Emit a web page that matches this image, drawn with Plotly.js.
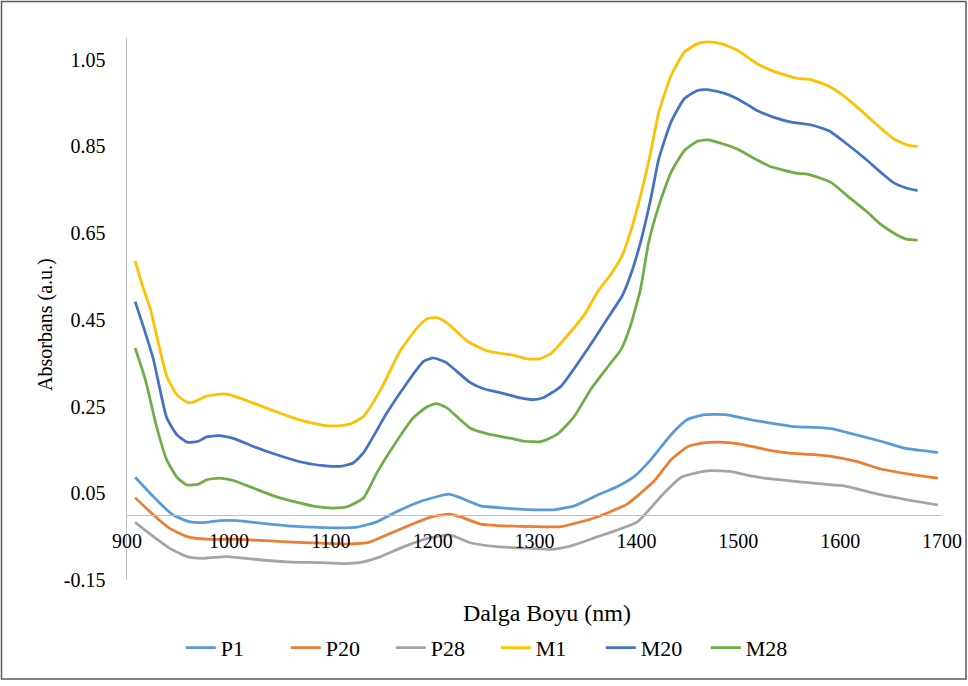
<!DOCTYPE html>
<html>
<head>
<meta charset="utf-8">
<script src="https://cdn.plot.ly/plotly-3.0.1.min.js"></script>
<style>
html,body{margin:0;padding:0;background:#fff;}
#chart{width:968px;height:686px;}
</style>
</head>
<body>
<div id="chart"></div>
<script>
// ---- data ----
const seriesNames = ["P1", "P20", "P28", "M1", "M20", "M28"];
const seriesColors = ["#5B9BD5", "#ED7D31", "#A5A5A5", "#FFC000", "#4472C4", "#70AD47"];

const p1X = [908, 926, 945, 962, 978, 991, 1008, 1031, 1057, 1083, 1109, 1126, 1145, 1165, 1188, 1204, 1216, 1227, 1247, 1270, 1300, 1319, 1339, 1362, 1381, 1398, 1414, 1434, 1450, 1466, 1489, 1509, 1532, 1555, 1575, 1591, 1607, 1640, 1663, 1696];
const p1Y = [0.087, 0.042, 0.000, -0.016, -0.017, -0.013, -0.013, -0.019, -0.025, -0.028, -0.030, -0.028, -0.016, 0.008, 0.031, 0.042, 0.048, 0.040, 0.021, 0.016, 0.012, 0.012, 0.021, 0.046, 0.065, 0.089, 0.127, 0.185, 0.220, 0.231, 0.231, 0.221, 0.212, 0.204, 0.202, 0.199, 0.190, 0.170, 0.154, 0.144];

const p20X = [908, 926, 942, 959, 978, 1001, 1024, 1057, 1090, 1116, 1136, 1149, 1172, 1198, 1216, 1227, 1247, 1270, 1300, 1326, 1342, 1362, 1375, 1391, 1404, 1417, 1434, 1450, 1466, 1480, 1503, 1525, 1548, 1575, 1591, 1617, 1640, 1666, 1696];
const p20Y = [0.040, 0.000, -0.031, -0.050, -0.056, -0.056, -0.058, -0.062, -0.065, -0.067, -0.064, -0.052, -0.029, -0.005, 0.002, -0.004, -0.021, -0.025, -0.027, -0.027, -0.018, -0.004, 0.008, 0.025, 0.050, 0.077, 0.127, 0.157, 0.166, 0.168, 0.163, 0.152, 0.143, 0.139, 0.135, 0.123, 0.106, 0.095, 0.085];

const p28X = [908, 926, 942, 959, 975, 998, 1024, 1057, 1090, 1113, 1132, 1149, 1172, 1195, 1217, 1237, 1263, 1296, 1319, 1339, 1362, 1381, 1401, 1414, 1427, 1444, 1457, 1473, 1493, 1512, 1532, 1558, 1584, 1604, 1637, 1666, 1696];
const p28Y = [-0.017, -0.050, -0.077, -0.096, -0.100, -0.096, -0.102, -0.108, -0.110, -0.112, -0.108, -0.096, -0.073, -0.054, -0.046, -0.064, -0.073, -0.077, -0.079, -0.069, -0.050, -0.035, -0.016, 0.016, 0.050, 0.087, 0.096, 0.102, 0.100, 0.090, 0.083, 0.077, 0.071, 0.067, 0.048, 0.035, 0.023];

const m1X = [908, 915, 923, 939, 949, 959, 965, 978, 995, 1005, 1024, 1041, 1063, 1080, 1096, 1110, 1119, 1132, 1149, 1168, 1185, 1195, 1204, 1214, 1234, 1254, 1280, 1293, 1305, 1316, 1329, 1349, 1362, 1375, 1386, 1394, 1404, 1414, 1422, 1434, 1447, 1460, 1470, 1483, 1496, 1503, 1519, 1535, 1558, 1571, 1588, 1601, 1617, 1637, 1653, 1666, 1676];
const m1Y = [0.586, 0.530, 0.474, 0.320, 0.277, 0.260, 0.260, 0.274, 0.279, 0.274, 0.258, 0.243, 0.224, 0.213, 0.206, 0.206, 0.210, 0.227, 0.289, 0.378, 0.432, 0.453, 0.455, 0.443, 0.401, 0.378, 0.368, 0.360, 0.360, 0.372, 0.405, 0.462, 0.515, 0.555, 0.598, 0.651, 0.736, 0.836, 0.929, 1.013, 1.067, 1.087, 1.091, 1.087, 1.075, 1.066, 1.040, 1.023, 1.007, 1.004, 0.990, 0.971, 0.940, 0.898, 0.867, 0.853, 0.850];

const m20X = [908, 916, 926, 939, 949, 959, 970, 978, 990, 1005, 1024, 1047, 1073, 1093, 1109, 1122, 1132, 1155, 1175, 1191, 1201, 1213, 1237, 1250, 1270, 1286, 1299, 1309, 1326, 1355, 1371, 1386, 1394, 1404, 1414, 1422, 1434, 1447, 1460, 1470, 1486, 1499, 1512, 1519, 1535, 1552, 1571, 1589, 1607, 1627, 1640, 1652, 1665, 1676];
const m20Y = [0.492, 0.435, 0.358, 0.224, 0.185, 0.168, 0.170, 0.180, 0.183, 0.176, 0.158, 0.139, 0.121, 0.114, 0.112, 0.120, 0.143, 0.235, 0.305, 0.354, 0.362, 0.352, 0.305, 0.291, 0.280, 0.270, 0.266, 0.271, 0.297, 0.393, 0.451, 0.505, 0.551, 0.628, 0.728, 0.821, 0.906, 0.960, 0.979, 0.981, 0.973, 0.960, 0.942, 0.932, 0.917, 0.906, 0.900, 0.886, 0.855, 0.817, 0.790, 0.767, 0.754, 0.748];

const m28X = [908, 918, 929, 939, 949, 959, 970, 978, 990, 1005, 1024, 1044, 1067, 1086, 1103, 1116, 1132, 1145, 1159, 1181, 1195, 1204, 1214, 1237, 1254, 1276, 1290, 1306, 1316, 1324, 1339, 1355, 1371, 1385, 1394, 1404, 1412, 1422, 1434, 1447, 1460, 1470, 1486, 1499, 1519, 1532, 1558, 1568, 1591, 1607, 1627, 1640, 1652, 1665, 1676];
const m28Y = [0.385, 0.312, 0.204, 0.127, 0.087, 0.069, 0.071, 0.081, 0.085, 0.079, 0.062, 0.044, 0.029, 0.019, 0.016, 0.019, 0.039, 0.096, 0.150, 0.224, 0.250, 0.257, 0.247, 0.200, 0.187, 0.177, 0.170, 0.169, 0.178, 0.189, 0.227, 0.289, 0.339, 0.382, 0.435, 0.520, 0.628, 0.713, 0.790, 0.840, 0.862, 0.865, 0.855, 0.844, 0.818, 0.803, 0.788, 0.786, 0.767, 0.736, 0.698, 0.670, 0.651, 0.636, 0.634];

const xTickVals = [900, 1000, 1100, 1200, 1300, 1400, 1500, 1600, 1700];
const yTickVals = [-0.15, 0.05, 0.25, 0.45, 0.65, 0.85, 1.05];
const yTickText = ["-0.15", "0.05", "0.25", "0.45", "0.65", "0.85", "1.05"];
const xTitle = "Dalga Boyu (nm)";
const yTitle = "Absorbans (a.u.)";

// ---- build ----
const xs = [p1X, p20X, p28X, m1X, m20X, m28X];
const ys = [p1Y, p20Y, p28Y, m1Y, m20Y, m28Y];
const traces = seriesNames.map((n, i) => ({
  type: "scatter", mode: "lines", name: n,
  x: xs[i], y: ys[i],
  line: {color: seriesColors[i], width: 2.75, shape: "spline", smoothing: 0.5}
}));

const FONT = "'Liberation Serif', 'Times New Roman', serif";
const yMin = -0.15, yMax = 1.10;
const zeroPos = (0 - yMin) / (yMax - yMin);

const layout = {
  width: 968, height: 686,
  margin: {l: 127, r: 26, t: 38, b: 106},
  paper_bgcolor: "#ffffff", plot_bgcolor: "#ffffff",
  font: {family: FONT, color: "#000000", size: 18},
  showlegend: true,
  legend: {
    orientation: "h", x: 0.066, xanchor: "left", y: -0.125, yanchor: "middle",
    font: {family: FONT, size: 22, color: "#000000"},
    itemwidth: 30, traceorder: "normal",
    entrywidth: 60, entrywidthmode: "pixels"
  },
  xaxis: {
    range: [900, 1700], tickvals: xTickVals,
    anchor: "free", position: zeroPos,
    showline: true, linecolor: "#BFBFBF", linewidth: 1.5,
    showgrid: false, zeroline: false, ticks: "",
    ticklabelstandoff: 8,
    tickfont: {family: FONT, size: 20, color: "#000000"}
  },
  yaxis: {
    range: [yMin, yMax], tickvals: yTickVals, ticktext: yTickText,
    showline: true, linecolor: "#BFBFBF", linewidth: 1.5,
    showgrid: false, zeroline: false, ticks: "",
    ticklabelstandoff: 16,
    tickfont: {family: FONT, size: 20, color: "#000000"}
  },
  annotations: [
    {text: xTitle, xref: "paper", yref: "paper", x: (547 - 127) / 815, y: (580 - 613) / 542,
     xanchor: "center", yanchor: "middle", showarrow: false,
     font: {family: FONT, size: 24, color: "#000000"}},
    {text: yTitle, xref: "paper", yref: "paper", x: (45 - 127) / 815, y: (580 - 325) / 542,
     xanchor: "center", yanchor: "middle", showarrow: false, textangle: -90,
     font: {family: FONT, size: 20, color: "#000000"}}
  ],
  shapes: [{
    type: "rect", xref: "paper", yref: "paper",
    x0: (1.5 - 127) / 815, x1: (966 - 127) / 815,
    y0: (580 - 679) / 542, y1: (580 - 1.5) / 542,
    line: {color: "#595959", width: 1.5}, fillcolor: "rgba(0,0,0,0)", layer: "below"
  }]
};

Plotly.newPlot("chart", traces, layout, {displayModeBar: false, staticPlot: true});
</script>
</body>
</html>
